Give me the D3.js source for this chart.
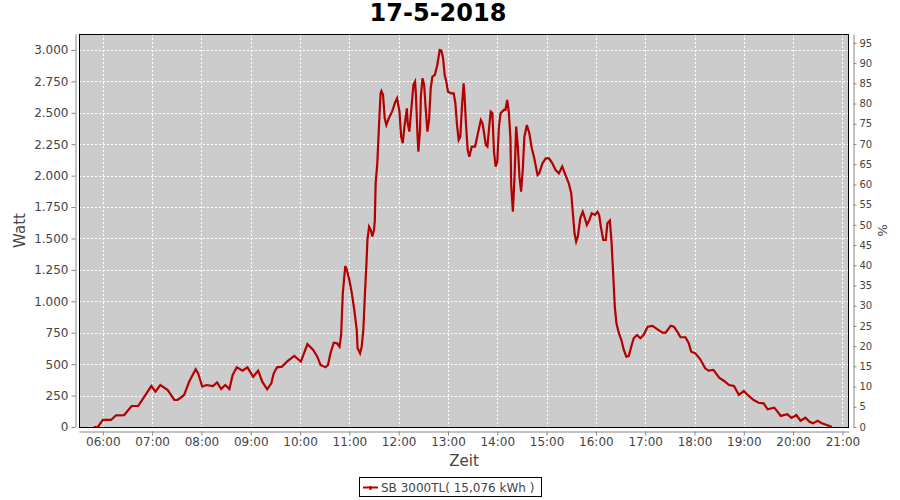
<!DOCTYPE html>
<html><head><meta charset="utf-8">
<script src="https://cdn.jsdelivr.net/npm/d3@7"></script>
<style>body{margin:0;background:#fff;} svg{display:block;font-family:"DejaVu Sans",sans-serif;}</style>
</head><body><svg id="c" width="900" height="500"></svg>
<script>
const title = "17-5-2018";
const seriesName = "SB 3000TL( 15,076 kWh )";
const times = ["05:49","05:54","06:00","06:10","06:16","06:26","06:35","06:43","06:59","07:04","07:10","07:19","07:27","07:31","07:39","07:45","07:53","07:56","08:01","08:06","08:14","08:19","08:24","08:29","08:34","08:38","08:43","08:50","08:56","09:03","09:09","09:14","09:20","09:25","09:28","09:32","09:38","09:44","09:53","10:01","10:09","10:16","10:21","10:25","10:31","10:34","10:37","10:41","10:45","10:48","10:50","10:52","10:55","10:57","11:00","11:03","11:06","11:09","11:10","11:13","11:15","11:17","11:19","11:21","11:22","11:24","11:26","11:28","11:30","11:31","11:32","11:34","11:35","11:36","11:38","11:39","11:41","11:43","11:45","11:48","11:52","11:56","11:58","12:01","12:03","12:05","12:07","12:10","12:11","12:13","12:16","12:18","12:20","12:21","12:23","12:24","12:26","12:27","12:29","12:31","12:33","12:35","12:37","12:39","12:41","12:44","12:47","12:50","12:52","12:54","12:56","12:58","13:00","13:04","13:07","13:09","13:11","13:13","13:15","13:17","13:19","13:20","13:22","13:24","13:26","13:29","13:33","13:36","13:40","13:42","13:44","13:46","13:48","13:50","13:52","13:54","13:56","13:58","14:00","14:02","14:04","14:08","14:10","14:12","14:14","14:16","14:17","14:19","14:21","14:23","14:25","14:27","14:29","14:31","14:33","14:36","14:39","14:42","14:45","14:49","14:51","14:55","14:59","15:03","15:07","15:11","15:15","15:19","15:23","15:27","15:30","15:32","15:34","15:36","15:38","15:41","15:44","15:46","15:49","15:52","15:55","15:59","16:02","16:04","16:06","16:09","16:12","16:14","16:17","16:19","16:21","16:23","16:25","16:28","16:31","16:34","16:37","16:40","16:43","16:46","16:50","16:54","16:58","17:03","17:09","17:15","17:21","17:25","17:31","17:35","17:39","17:43","17:49","17:53","17:56","18:01","18:07","18:13","18:17","18:23","18:30","18:36","18:42","18:48","18:54","19:00","19:06","19:12","19:18","19:24","19:29","19:37","19:41","19:45","19:53","19:58","20:04","20:09","20:15","20:20","20:24","20:30","20:35","20:41","20:47"];
const watts = [0,0,56,56,93,95,167,167,326,281,334,294,215,215,255,361,459,427,321,334,326,355,302,334,302,414,475,448,475,400,448,361,300,348,427,475,480,520,565,520,660,613,560,493,475,493,586,671,666,639,732,1064,1281,1249,1170,1064,931,772,626,586,639,772,1064,1330,1490,1594,1568,1515,1568,1647,1939,2098,2244,2390,2656,2674,2642,2457,2403,2457,2509,2589,2616,2509,2310,2258,2390,2536,2417,2350,2576,2722,2748,2642,2310,2191,2363,2629,2775,2722,2523,2350,2443,2695,2788,2801,2881,3000,2995,2934,2801,2748,2668,2655,2655,2576,2403,2284,2310,2549,2735,2655,2403,2204,2151,2231,2231,2324,2443,2417,2337,2244,2231,2377,2509,2496,2191,2072,2111,2390,2496,2523,2523,2602,2509,2297,1912,1713,1992,2390,2231,1992,1873,2045,2310,2403,2337,2218,2138,2005,2018,2098,2138,2138,2098,2045,2018,2072,2005,1939,1860,1700,1541,1475,1515,1661,1713,1674,1608,1647,1700,1687,1713,1687,1594,1488,1488,1621,1642,1475,1223,957,825,746,692,613,560,565,639,706,732,706,732,798,804,777,751,751,806,798,759,714,714,666,599,586,539,467,448,454,393,366,334,326,255,286,247,215,193,188,141,154,122,88,101,72,95,50,74,42,29,50,29,16,2];
const xTickLabels = ["06:00","07:00","08:00","09:00","10:00","11:00","12:00","13:00","14:00","15:00","16:00","17:00","18:00","19:00","20:00","21:00"];
const yTicks = [0,250,500,750,1000,1250,1500,1750,2000,2250,2500,2750,3000];
const pctTicks = [0,5,10,15,20,25,30,35,40,45,50,55,60,65,70,75,80,85,90,95];

const parse = d3.timeParse("%Y-%m-%d %H:%M");
const day = "2018-05-17 ";
const data = times.map((t,i)=>({t:parse(day+t), v:watts[i]}));

const svg = d3.select("#c");
const L=79, R=849, T=34, B=427;
const x = d3.scaleTime().domain([parse(day+"05:31"), parse(day+"21:08")]).range([L,R]);
const y = d3.scaleLinear().domain([0,3127]).range([B,T]);
const yp = d3.scaleLinear().domain([0,97.2]).range([B,T]);
const de = d3.formatLocale({decimal:",",thousands:".",grouping:[3],currency:["",""]});
const fmt = de.format(",d");
const tickCol="#444", axisCol="#888";

svg.append("text").attr("x",438).attr("y",21).attr("text-anchor","middle")
  .attr("font-size",24).attr("font-weight","bold").attr("fill","#000").text(title);

svg.append("rect").attr("x",L).attr("y",T).attr("width",R-L).attr("height",B-T).attr("fill","#cccccc");

const xt = xTickLabels.map(s=>parse(day+s));
const g = svg.append("g");
g.selectAll(".vg").data(xt).join("line").attr("x1",d=>Math.round(x(d))+0.5).attr("x2",d=>Math.round(x(d))+0.5)
  .attr("y1",T).attr("y2",B).attr("stroke","#fff").attr("stroke-dasharray","2,2");
g.selectAll(".hg").data(yTicks).join("line").attr("y1",d=>Math.round(y(d))+0.5).attr("y2",d=>Math.round(y(d))+0.5)
  .attr("x1",L).attr("x2",R).attr("stroke","#fff").attr("stroke-dasharray","2,2");

const line = d3.line().x(d=>x(d.t)).y(d=>y(d.v));
svg.append("path").datum(data).attr("d",line).attr("fill","none").attr("stroke","#b40000").attr("stroke-width",2.2).attr("stroke-linejoin","miter");

svg.append("rect").attr("x",L+0.5).attr("y",T+0.5).attr("width",R-L-1).attr("height",B-T).attr("fill","none").attr("stroke","#000");

function style(ax, size){
  ax.selectAll("text").attr("fill",tickCol).attr("font-size",size).attr("font-family","'DejaVu Sans',sans-serif");
  ax.selectAll("line").attr("stroke",axisCol);
  ax.select(".domain").attr("stroke",axisCol);
}
const ax = svg.append("g").attr("transform",`translate(0,${B+4.5})`)
  .call(d3.axisBottom(x).tickValues(xt).tickFormat(d3.timeFormat("%H:%M")).tickSizeOuter(0).tickSizeInner(4).tickPadding(2));
style(ax,12);
const ay = svg.append("g").attr("transform",`translate(${L-3.5},0)`)
  .call(d3.axisLeft(y).tickValues(yTicks).tickFormat(fmt).tickSizeOuter(0).tickSizeInner(4).tickPadding(3));
style(ay,12);
const ar = svg.append("g").attr("transform",`translate(${R+4.5},0)`)
  .call(d3.axisRight(yp).tickValues(pctTicks).tickFormat(d3.format("d")).tickSizeOuter(0).tickSizeInner(3).tickPadding(3));
style(ar,10);

svg.append("text").attr("transform",`translate(25,${(T+B)/2}) rotate(-90)`).attr("text-anchor","middle")
  .attr("font-size",15).attr("fill",tickCol).text("Watt");
svg.append("text").attr("transform",`translate(878,${(T+B)/2}) rotate(90)`).attr("text-anchor","middle")
  .attr("font-size",13).attr("fill",tickCol).text("%");
svg.append("text").attr("x",(L+R)/2).attr("y",466).attr("text-anchor","middle")
  .attr("font-size",15).attr("fill",tickCol).text("Zeit");

const lg = svg.append("g");
lg.append("rect").attr("x",359.5).attr("y",477.5).attr("width",182).attr("height",19).attr("fill","#fff").attr("stroke","#000");
lg.append("line").attr("x1",363).attr("x2",378).attr("y1",487.5).attr("y2",487.5).attr("stroke","#b40000").attr("stroke-width",2);
lg.append("rect").attr("x",369.5).attr("y",486).attr("width",2).attr("height",4).attr("fill","#b40000");
lg.append("text").attr("x",381).attr("y",492).attr("font-size",12).attr("fill",tickCol).text(seriesName);
</script></body></html>
